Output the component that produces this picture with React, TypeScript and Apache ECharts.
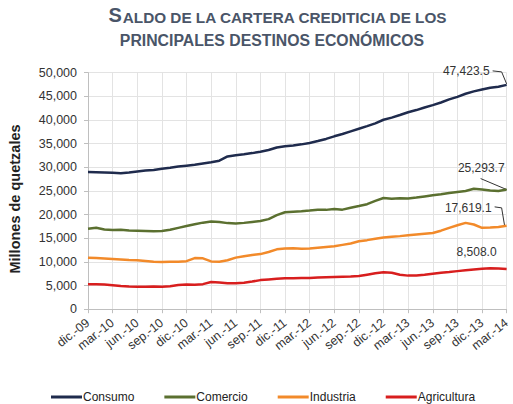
import React, { useEffect, useRef } from "react";
import * as echarts from "echarts";

const categories = [
  "dic.-09",
  "ene.-10", "feb.-10", "mar.-10", "abr.-10", "may.-10", "jun.-10", "jul.-10", "ago.-10", "sep.-10", "oct.-10", "nov.-10", "dic.-10",
  "ene.-11", "feb.-11", "mar.-11", "abr.-11", "may.-11", "jun.-11", "jul.-11", "ago.-11", "sep.-11", "oct.-11", "nov.-11", "dic.-11",
  "ene.-12", "feb.-12", "mar.-12", "abr.-12", "may.-12", "jun.-12", "jul.-12", "ago.-12", "sep.-12", "oct.-12", "nov.-12", "dic.-12",
  "ene.-13", "feb.-13", "mar.-13", "abr.-13", "may.-13", "jun.-13", "jul.-13", "ago.-13", "sep.-13", "oct.-13", "nov.-13", "dic.-13",
  "ene.-14", "feb.-14", "mar.-14",
];

const consumo = [
  29000, 28950, 28900, 28850, 28750, 28900, 29100, 29300, 29450, 29700, 29900, 30150, 30350,
  30550, 30800, 31050, 31400, 32300, 32550, 32750, 33000, 33300, 33650, 34200, 34450,
  34600, 34850, 35150, 35550, 36000, 36550, 37050, 37600, 38150, 38700, 39300, 40050,
  40500, 41050, 41650, 42100, 42650, 43150, 43700, 44350, 44900, 45550, 46050, 46450,
  46800, 47050, 47423.5,
];

const comercio = [
  17000, 17200, 16850, 16750, 16800, 16650, 16600, 16550, 16500, 16550, 16800, 17200, 17600,
  17950, 18300, 18550, 18450, 18200, 18100, 18250, 18450, 18650, 19050, 19900, 20500,
  20600, 20700, 20850, 21050, 21000, 21200, 21050, 21450, 21800, 22200, 22900, 23500,
  23350, 23450, 23400, 23600, 23850, 24100, 24300, 24550, 24800, 25000, 25450, 25300,
  25100, 25000, 25293.7,
];

const industria = [
  10900, 10800, 10700, 10600, 10500, 10400, 10350, 10200, 10050, 10000, 10050, 10050, 10150,
  10800, 10750, 10100, 10050, 10350, 10900, 11200, 11450, 11650, 12100, 12650, 12850,
  12900, 12800, 12850, 13000, 13150, 13300, 13600, 13900, 14350, 14600, 14900, 15150,
  15300, 15450, 15650, 15800, 15950, 16100, 16600, 17200, 17750, 18250, 17900, 17200,
  17250, 17400, 17619.1,
];

const agricultura = [
  5300, 5300, 5200, 5050, 4900, 4800, 4750, 4750, 4780, 4750, 4850, 5100, 5200,
  5150, 5300, 5750, 5650, 5500, 5500, 5600, 5850, 6150, 6300, 6450, 6550,
  6550, 6600, 6600, 6700, 6750, 6800, 6850, 6900, 7000, 7300, 7600, 7800,
  7700, 7300, 7100, 7150, 7300, 7500, 7700, 7850, 8050, 8250, 8400, 8550,
  8650, 8600, 8508.0,
];

const seriesNames = ["Consumo", "Comercio", "Industria", "Agricultura"];
const seriesColors = ["#1f2b4d", "#5b7030", "#f28a2a", "#d81e1e"];
const endLabels = ["47,423.5", "25,293.7", "17,619.1", "8,508.0"];

const FONT = "'Liberation Sans', Arial, sans-serif";

export default function App() {
  const ref = useRef<HTMLDivElement>(null);

  useEffect(() => {
    if (!ref.current) return;
    const chart = echarts.init(ref.current, null, { renderer: "svg" });
    const data = [consumo, comercio, industria, agricultura];

    chart.setOption({
      animation: false,
      backgroundColor: "#ffffff",
      textStyle: { fontFamily: FONT },
      grid: { left: 88, right: 1, top: 72.7, bottom: 94.8, containLabel: false },
      legend: {
        left: 46,
        top: 386,
        icon: "rect",
        itemWidth: 31,
        itemHeight: 3,
        itemGap: 30,
        textStyle: { fontSize: 12, color: "#222", fontFamily: FONT, padding: [0, 0, 0, -4] },
        data: seriesNames,
      },
      xAxis: {
        type: "category",
        data: categories,
        boundaryGap: false,
        axisLine: { lineStyle: { color: "#bfbfbf", width: 1 } },
        axisTick: { show: true, interval: 2, length: 4, lineStyle: { color: "#bfbfbf" } },
        axisLabel: {
          interval: 2,
          rotate: 38,
          fontSize: 12.5,
          color: "#333",
          fontFamily: FONT,
          margin: 12,
        },
        splitLine: { show: true, interval: 2, lineStyle: { color: "#e3e3e3", width: 1 } },
      },
      yAxis: {
        type: "value",
        min: 0,
        max: 50000,
        interval: 5000,
        axisLine: { show: true, lineStyle: { color: "#bfbfbf" } },
        axisTick: { show: true, length: 4, lineStyle: { color: "#bfbfbf" } },
        axisLabel: {
          fontSize: 12.5,
          color: "#333",
          fontFamily: FONT,
          margin: 11,
          formatter: (v: number) => v.toLocaleString("en-US"),
        },
        splitLine: { show: true, lineStyle: { color: "#e3e3e3", width: 1 } },
      },
      series: seriesNames.map((name, i) => ({
        name,
        type: "line",
        data: data[i],
        symbol: "none",
        showSymbol: false,
        lineStyle: { color: seriesColors[i], width: 2.5 },
        itemStyle: { color: seriesColors[i] },
      })),
    });

    const last = categories.length - 1;
    const pts = data.map((d) => chart.convertToPixel({ gridIndex: 0 }, [last, d[last]]) as number[]);
    const txt = (x: number, y: number, s: string) => ({
      type: "text",
      x,
      y,
      style: {
        text: s,
        fontSize: 12,
        fill: "#333",
        fontFamily: FONT,
        align: "right",
        verticalAlign: "middle",
      },
    });
    const pl = (points: number[][]) => ({
      type: "polyline",
      shape: { points },
      style: { stroke: "#333", lineWidth: 1, fill: "none" },
    });
    const [c, m, ind, ag] = pts;
    chart.setOption({
      graphic: [
        {
          type: "text",
          x: 278,
          y: 25,
          style: {
            text: "{a|S}{b|ALDO DE LA CARTERA CREDITICIA DE LOS}",
            rich: {
              a: { fontSize: 20, fontWeight: "bold", fill: "#4a5568", fontFamily: FONT, verticalAlign: "bottom" },
              b: { fontSize: 15.3, fontWeight: "bold", fill: "#4a5568", fontFamily: FONT, verticalAlign: "bottom" },
            },
            align: "center",
            verticalAlign: "bottom",
          },
        },
        {
          type: "text",
          x: 272,
          y: 48,
          style: {
            text: "PRINCIPALES DESTINOS ECONÓMICOS",
            fontSize: 15.8,
            fontWeight: "bold",
            fill: "#4a5568",
            fontFamily: FONT,
            align: "center",
            verticalAlign: "bottom",
          },
        },
        {
          type: "text",
          x: 15,
          y: 199,
          rotation: Math.PI / 2,
          style: {
            text: "Millones de quetzales",
            fontSize: 14.5,
            fontWeight: "bold",
            fill: "#222",
            fontFamily: FONT,
            align: "center",
            verticalAlign: "middle",
          },
        },
        txt(c[0] - 17, c[1] - 14, endLabels[0]),
        pl([[c[0] - 14, c[1] - 14], [c[0] - 5, c[1] - 13], [c[0], c[1] - 1]]),
        txt(m[0] - 2, m[1] - 22, endLabels[1]),
        pl([[m[0] - 26, m[1] - 11], [m[0], m[1]]]),
        txt(ind[0] - 15, ind[1] - 18, endLabels[2]),
        pl([[ind[0] - 12, ind[1] - 19], [ind[0] - 5, ind[1] - 18], [ind[0] - 2, ind[1]]]),
        txt(ag[0] - 10, ag[1] - 17, endLabels[3]),
      ],
    });

    return () => chart.dispose();
  }, []);

  return (
    <div
      ref={ref}
      style={{ position: "fixed", left: 0, top: 0, width: 513, height: 404, background: "#fff" }}
    />
  );
}
